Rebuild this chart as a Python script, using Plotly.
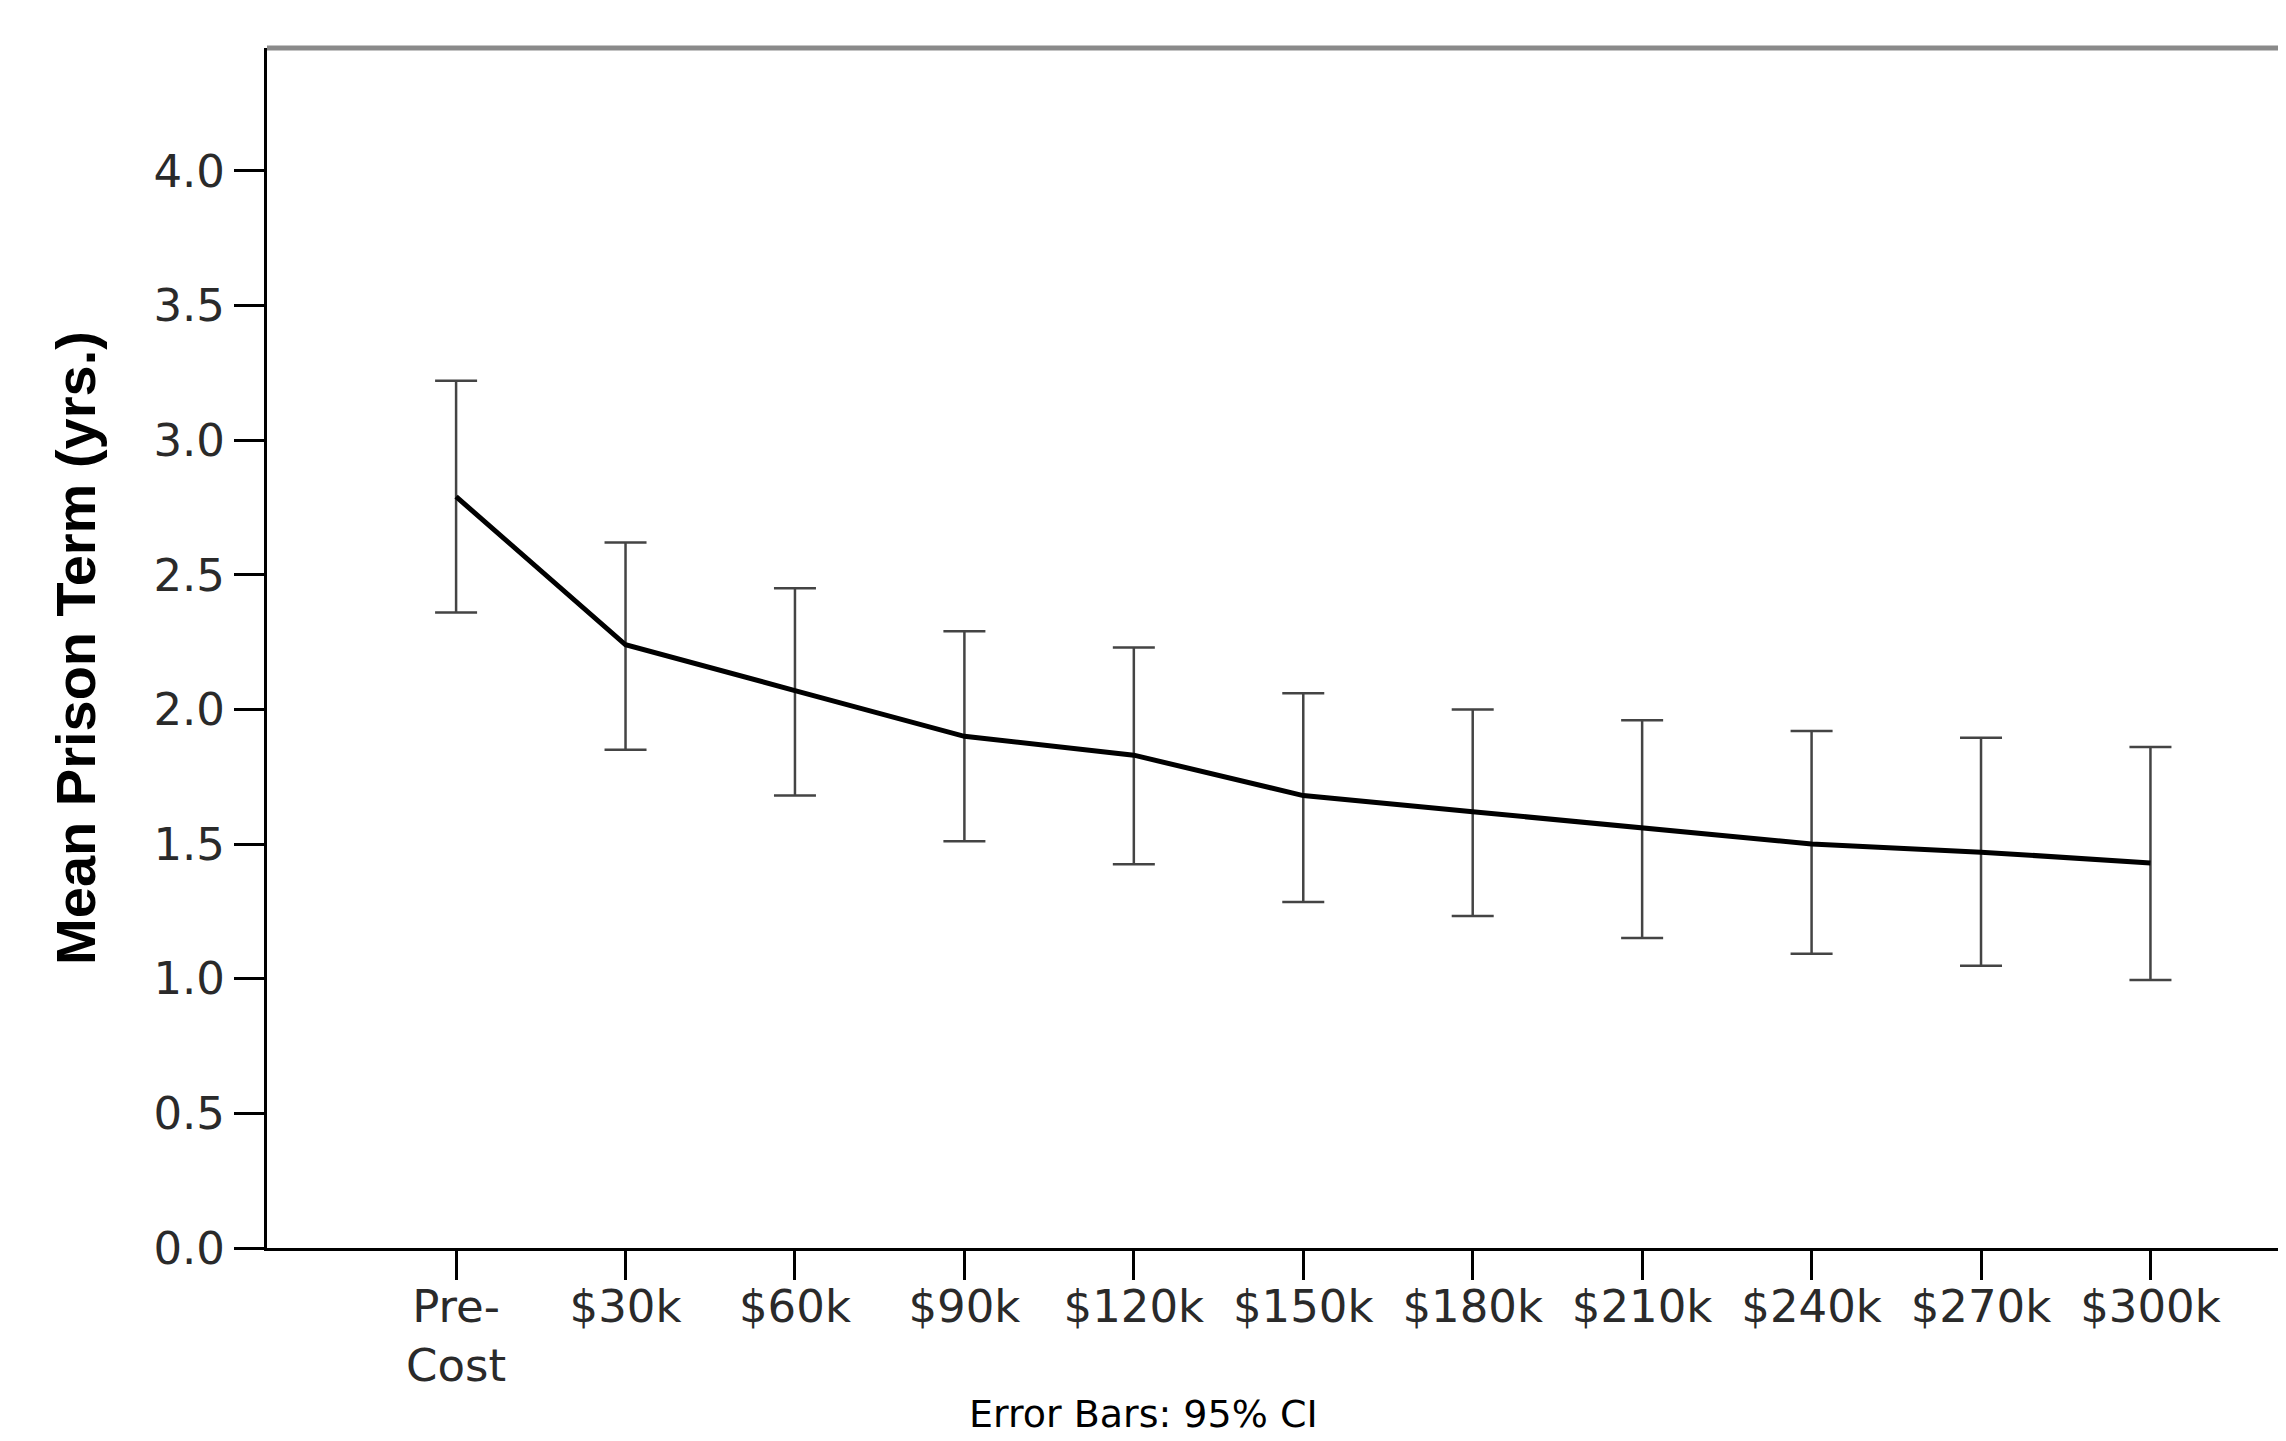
import plotly.graph_objects as go

categories = ["Pre-<br>Cost", "$30k", "$60k", "$90k", "$120k", "$150k",
              "$180k", "$210k", "$240k", "$270k", "$300k"]
mean_term = [2.79, 2.24, 2.07, 1.90, 1.83, 1.68, 1.62, 1.56, 1.50, 1.47, 1.43]
ci_upper = [3.22, 2.62, 2.45, 2.29, 2.23, 2.06, 2.00, 1.96, 1.92, 1.895, 1.86]
ci_lower = [2.36, 1.85, 1.68, 1.51, 1.425, 1.285, 1.233, 1.151, 1.093, 1.048, 0.995]
y_ticks = [0.0, 0.5, 1.0, 1.5, 2.0, 2.5, 3.0, 3.5, 4.0]

xpos = list(range(len(categories)))
err_plus = [u - m for u, m in zip(ci_upper, mean_term)]
err_minus = [m - l for m, l in zip(mean_term, ci_lower)]

# page has an 8px body margin; figure sized to fill the window exactly
W, H = 2278, 1433
ML, MR, MT, MB = 259, 0, 40, 193
PW = W - ML - MR
PH = H - MT - MB

fig = go.Figure()
fig.add_trace(go.Scatter(
    x=xpos, y=mean_term, mode="lines",
    line=dict(color="#000000", width=5),
    error_y=dict(type="data", array=err_plus, arrayminus=err_minus,
                 color="#444444", thickness=2.5, width=21, visible=True),
    showlegend=False, hoverinfo="skip",
))

tick_font = dict(family="DejaVu Sans", size=45, color="#2a2a2a")

fig.update_layout(
    width=W, height=H,
    margin=dict(l=ML, r=MR, t=MT, b=MB, autoexpand=False),
    paper_bgcolor="white", plot_bgcolor="white",
    xaxis=dict(
        range=[-1.116, 10.80],
        tickmode="array", tickvals=xpos, ticktext=categories,
        ticks="outside", ticklen=29, tickwidth=3, tickcolor="#000000",
        ticklabelstandoff=-12,
        showline=True, linecolor="#000000", linewidth=3,
        showgrid=False, zeroline=False, tickfont=tick_font,
        automargin=False,
    ),
    yaxis=dict(
        range=[0, 4.456],
        tickmode="array", tickvals=y_ticks,
        ticktext=[f"{v:.1f}" for v in y_ticks],
        ticks="outside", ticklen=30, tickwidth=3, tickcolor="#000000",
        showline=True, linecolor="#000000", linewidth=3,
        showgrid=False, zeroline=False, tickfont=tick_font,
        title=dict(text="Mean Prison Term (yrs.)",
                   font=dict(family="Liberation Sans", size=56,
                             color="#000000", weight="bold"),
                   standoff=40),
        automargin=False,
    ),
    shapes=[dict(type="line", xref="paper", yref="paper",
                 x0=0, x1=1, y0=1, y1=1,
                 line=dict(color="#8a8a8a", width=5))],
    annotations=[dict(text="Error Bars: 95% CI", xref="paper", yref="paper",
                      x=(959 - ML) / PW, y=-(1382 - (MT + PH)) / PH,
                      xanchor="left", yanchor="top", showarrow=False,
                      font=dict(family="DejaVu Sans", size=38, color="#000000"))],
)

fig.write_html("out.html")
